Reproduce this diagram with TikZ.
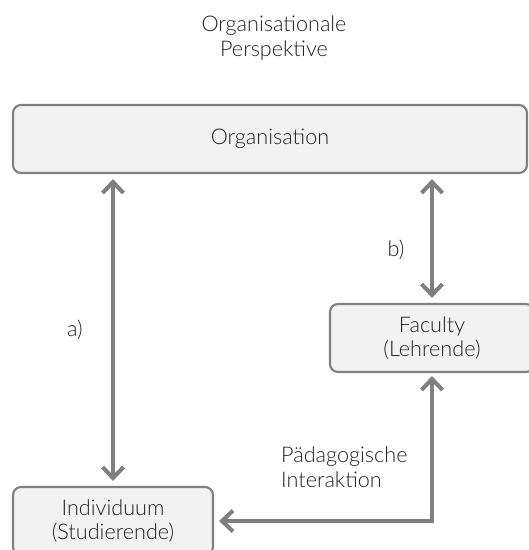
\documentclass[tikz,border=0pt]{standalone}
\usepackage{fontspec}
\setmainfont{Lato Light}
\usetikzlibrary{arrows.meta}
\definecolor{boxgray}{HTML}{F2F2F2}
\definecolor{linegray}{HTML}{808080}
\definecolor{txtgray}{HTML}{222222}
\begin{document}
\begin{tikzpicture}
  \tikzset{block/.style={shape=rectangle,align=center,rounded corners=0.16cm,draw=linegray,line width=1.2pt,fill=boxgray,text=txtgray,minimum height=1.36cm,font=\fontsize{12.3}{14}\selectfont}};
  \tikzset{link/.style={draw=linegray,line width=2.3pt,{Straight Barb[length=0.22cm,width=0.42cm]}-{Straight Barb[length=0.22cm,width=0.42cm]},shorten <=0.1cm,shorten >=0.1cm}};
  \tikzset{label/.style={text=txtgray,font=\fontsize{12.3}{14}\selectfont}};
  \useasboundingbox (0,0) rectangle (10.56,-11);
  \node[label,align=center](Pers) at (5.48,-0.76){Organisationale\\Perspektive};
  \node[block,minimum width=10.28cm](Org) at (5.4,-2.78){Organisation};
  \node[block,minimum width=4.08cm](Fac) at (8.64,-6.76){Faculty\\(Lehrende)};
  \node[block,minimum width=4.0cm](Ind) at (2.26,-10.42){Individuum\\(Studierende)};
  \node[label](LabA) at (1.5,-6.6){a)};
  \node[label](LabB) at (7.92,-5.0){b)};
  \node[label,align=left,anchor=west](Ped) at (5.5,-9.35){Pädagogische\\Interaktion};
  \draw[link] (Org.south -| Ind.north) -- (Ind.north);
  \draw[link] (Org.south -| Fac.north) -- (Fac.north);
  \draw[link,shorten <=0.06cm] (Fac.south) |- (Ind.east);
\end{tikzpicture}
\end{document}
